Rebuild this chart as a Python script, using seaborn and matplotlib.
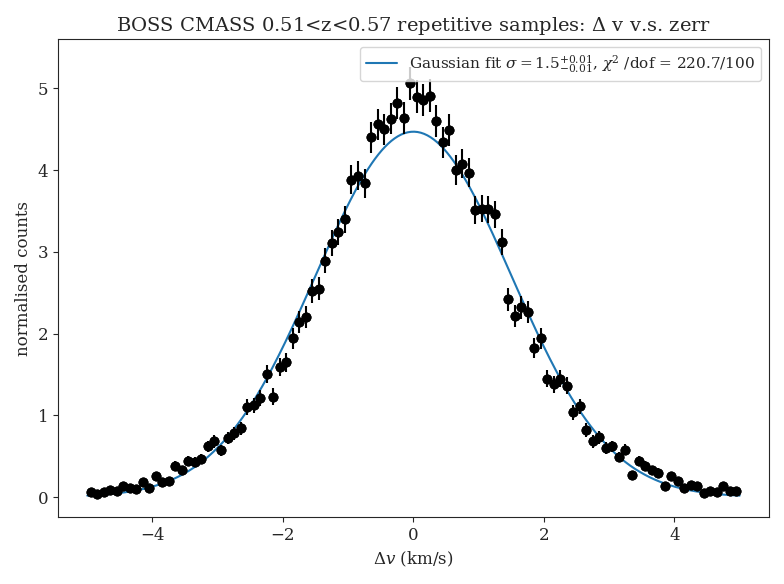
import numpy as np
import pandas as pd
import matplotlib
matplotlib.use("Agg")
import matplotlib.pyplot as plt
import seaborn as sns

# bin centres and normalised counts
dv = np.round(np.arange(-4.95, 5.0, 0.1), 2)
counts = [
    0.06, 0.04, 0.06, 0.09, 0.08, 0.13, 0.11, 0.10, 0.19, 0.11,
    0.26, 0.19, 0.20, 0.38, 0.33, 0.44, 0.43, 0.47, 0.62, 0.68,
    0.57, 0.72, 0.78, 0.84, 1.10, 1.12, 1.21, 1.51, 1.23, 1.59,
    1.65, 1.94, 2.14, 2.20, 2.52, 2.55, 2.89, 3.11, 3.24, 3.40,
    3.88, 3.93, 3.84, 4.40, 4.56, 4.50, 4.63, 4.82, 4.64, 5.06,
    4.90, 4.86, 4.91, 4.60, 4.34, 4.49, 4.00, 4.08, 3.97, 3.51,
    3.53, 3.52, 3.46, 3.12, 2.42, 2.22, 2.32, 2.26, 1.82, 1.94,
    1.45, 1.38, 1.45, 1.36, 1.04, 1.11, 0.82, 0.68, 0.73, 0.60,
    0.62, 0.49, 0.58, 0.27, 0.44, 0.38, 0.33, 0.30, 0.14, 0.26,
    0.20, 0.11, 0.15, 0.14, 0.05, 0.07, 0.06, 0.14, 0.08, 0.08,
]
fit_amp = 4.47
fit_sigma = 1.5


def main():
    sns.set_style("ticks")
    plt.rcParams["font.family"] = ["DejaVu Serif"]
    plt.rcParams["mathtext.fontset"] = "dejavuserif"

    df = pd.DataFrame({"dv": dv, "counts": counts})
    df["err"] = 0.09 * np.sqrt(df["counts"])

    fig, ax = plt.subplots(figsize=(7.84, 5.84), dpi=100)

    xs = np.linspace(-5, 5, 400)
    curve = pd.DataFrame({"x": xs, "y": fit_amp * np.exp(-xs**2 / (2 * fit_sigma**2))})
    sns.lineplot(data=curve, x="x", y="y", ax=ax, color="#1f77b4",
                 label=r"Gaussian fit $\sigma=1.5^{+0.01}_{-0.01}$, $\chi^2$ /dof = 220.7/100")

    ax.errorbar(df["dv"], df["counts"], yerr=df["err"], fmt="o", color="black",
                ecolor="black", ms=6, elinewidth=1.5)
    sns.scatterplot(data=df, x="dv", y="counts", ax=ax, color="black", s=45,
                    edgecolor="black", zorder=3, legend=False)

    ax.set_xlabel(r"$\Delta v$ (km/s)", fontsize=12)
    ax.set_ylabel("normalised counts", fontsize=12)
    ax.set_title(r"BOSS CMASS 0.51<z<0.57 repetitive samples: $\Delta$ v v.s. zerr", fontsize=14)
    ax.tick_params(labelsize=12)
    ax.set_xlim(-5.45, 5.45)
    ax.set_ylim(-0.25, 5.6)
    ax.legend(loc="upper right", fontsize=11)
    fig.tight_layout()
    fig.savefig("out.png")
    plt.close(fig)


if __name__ == "__main__":
    main()
